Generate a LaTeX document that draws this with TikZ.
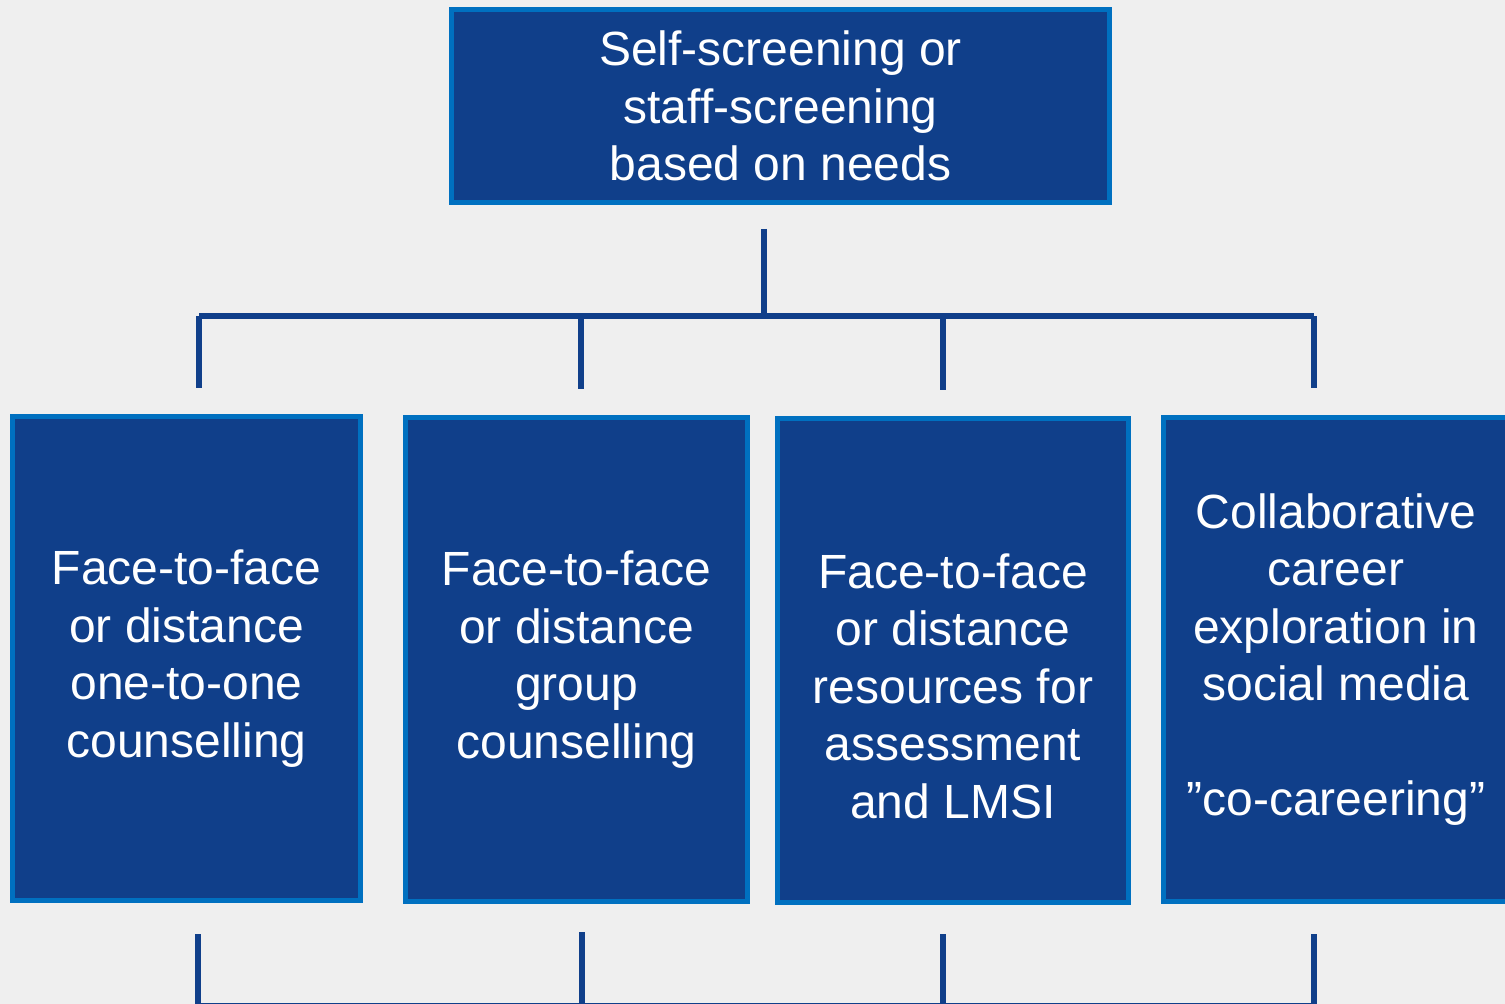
\documentclass[tikz,border=0pt]{standalone}
\usepackage{fontspec}
\setmainfont{Liberation Sans}
\definecolor{bgray}{HTML}{EFEFEF}
\definecolor{navy}{HTML}{103F8A}
\definecolor{rim}{HTML}{0070C0}
\begin{document}
\begin{tikzpicture}[x=0.5pt,y=-0.5pt]
\tikzstyle{every node}=[draw=rim,line width=2.5pt,fill=navy,text=white,align=center,font=\fontsize{24}{28.75}\selectfont]
\tikzstyle{tier}=[minimum width=174pt,minimum height=242pt]
\tikzstyle{wire}=[draw=navy,line width=2.6pt]
\fill[bgray] (0,0) rectangle (1505,1004);
\useasboundingbox (0,0) rectangle (1505,1004);
\node[rectangle,minimum width=329pt,minimum height=96.5pt](top) at (780.5,106) {Self-screening or\\staff-screening\\based on needs};
\node[rectangle,tier](s1) at (186.5,658.5) {Face-to-face\\or distance\\one-to-one\\counselling};
\node[rectangle,tier,minimum width=171pt](s2) at (576.5,659.5) {Face-to-face\\or distance\\group\\counselling};
\node[rectangle,tier,minimum width=175.5pt](s3) at (953,660.5) {\strut\\[-6pt]Face-to-face\\or distance\\resources for\\assessment\\and LMSI};
\node[rectangle,tier,minimum width=172.5pt](s4) at (1336,659.5) {Collaborative\\career\\exploration in\\social media\\\strut\\”co-careering”};
% tree above the service boxes
\coordinate (t0) at (764,229);
\coordinate (hub) at (764,316);
\foreach \i/\x/\e in {1/199/388,2/581/389,3/943/390,4/1314/388}{
  \coordinate (j\i) at (\x,316);
  \coordinate (d\i) at (\x,\e);
}
\draw[wire] (t0) -- (hub);
\draw[wire] (j1) -- (j4);
\foreach \i in {1,...,4} \draw[wire] (j\i) -- (d\i);
% tree below the service boxes
\foreach \i/\x/\b in {1/198/934,2/582/932,3/943/934,4/1314/934}{
  \coordinate (u\i) at (\x,\b);
  \coordinate (b\i) at (\x,1006);
}
\draw[wire] (b1) -- (b4);
\foreach \i in {1,...,4} \draw[wire] (u\i) -- (b\i);
\end{tikzpicture}
\end{document}
